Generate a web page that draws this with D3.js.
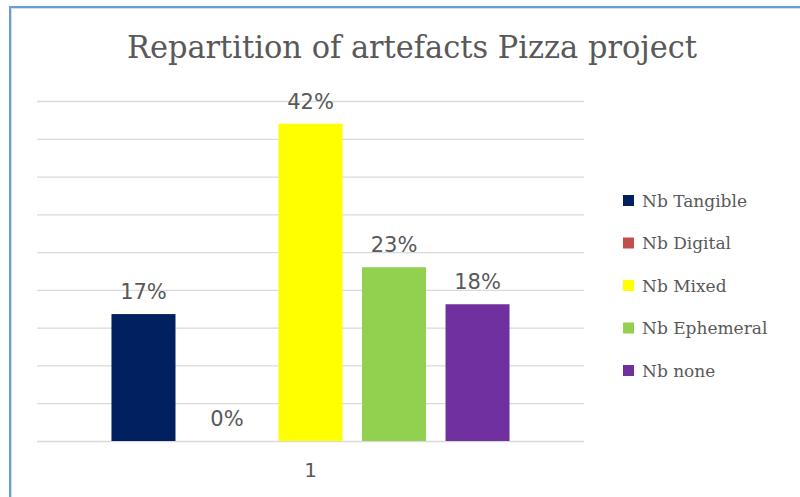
<!DOCTYPE html>
<html>
<head>
<meta charset="utf-8">
<script src="https://cdn.jsdelivr.net/npm/d3@7/dist/d3.min.js"></script>
<style>
html,body{margin:0;padding:0;background:#fff;}
svg{display:block;}
</style>
</head>
<body>
<svg id="chart" width="800" height="497"></svg>
<script>
const title = "Repartition of artefacts Pizza project";
const categories = ["1"];
const seriesNames = ["Nb Tangible", "Nb Digital", "Nb Mixed", "Nb Ephemeral", "Nb none"];
const seriesValues = [0.168, 0.0, 0.42, 0.23, 0.181];
const seriesLabels = ["17%", "0%", "42%", "23%", "18%"];
const seriesColors = ["#002060", "#c0504d", "#ffff00", "#92d050", "#7030a0"];
const gridTicks = [0, 0.05, 0.10, 0.15, 0.20, 0.25, 0.30, 0.35, 0.40, 0.45];

const svg = d3.select("#chart");
const W = 800, H = 497;
svg.append("rect").attr("width", W).attr("height", H).attr("fill", "#fff");

// frame (top & left border)
svg.append("line").attr("x1", 10).attr("x2", W).attr("y1", 7).attr("y2", 7)
  .attr("stroke", "#6b9bd8").attr("stroke-width", 2);
svg.append("line").attr("x1", 10).attr("x2", 10).attr("y1", 6).attr("y2", H)
  .attr("stroke", "#6b9bd8").attr("stroke-width", 2);
svg.append("line").attr("x1", 11.5).attr("x2", W).attr("y1", 8.5).attr("y2", 8.5)
  .attr("stroke", "#cfe0f5").attr("stroke-width", 1);
svg.append("line").attr("x1", 11.5).attr("x2", 11.5).attr("y1", 8.5).attr("y2", H)
  .attr("stroke", "#cfe0f5").attr("stroke-width", 1);

const plot = {left: 37, right: 584, top: 101, bottom: 441};

const y = d3.scaleLinear().domain([0, 0.45]).range([plot.bottom, plot.top]);
const x0 = d3.scaleBand().domain(categories).range([plot.left, plot.right])
  .paddingInner(0).paddingOuter(0.155);
const x1 = d3.scaleBand().domain(seriesNames).range([0, x0.bandwidth()])
  .paddingInner(0.2335).paddingOuter(0.11675);

// gridlines
const grid = d3.axisLeft(y).tickValues(gridTicks).tickSize(-(plot.right - plot.left)).tickFormat("");
const gg = svg.append("g").attr("transform", `translate(${plot.left},0)`).call(grid);
gg.select(".domain").remove();
gg.selectAll(".tick line").attr("stroke", "#d9d9d9").attr("stroke-width", 1.3);

// category axis label
const xa = d3.axisBottom(x0).tickSize(0).tickPadding(0);
const xg = svg.append("g").attr("transform", `translate(0,${plot.bottom})`).call(xa);
xg.select(".domain").remove();
xg.selectAll("text").attr("font-family", "'DejaVu Sans', sans-serif").attr("font-size", 20)
  .attr("fill", "#595959").attr("dy", null).attr("y", 36);

// bars
const data = seriesNames.map((s, i) => ({cat: categories[0], name: s, value: seriesValues[i], label: seriesLabels[i], color: seriesColors[i]}));
const g = svg.append("g");
g.selectAll("rect.bar").data(data).enter().append("rect")
  .attr("class", "bar")
  .attr("x", d => x0(d.cat) + x1(d.name))
  .attr("width", x1.bandwidth())
  .attr("y", d => y(d.value))
  .attr("height", d => y(0) - y(d.value))
  .attr("fill", d => d.color);

g.selectAll("text.lbl").data(data).enter().append("text")
  .attr("class", "lbl")
  .attr("x", d => x0(d.cat) + x1(d.name) + x1.bandwidth() / 2)
  .attr("y", d => y(d.value) - 15)
  .attr("text-anchor", "middle")
  .attr("font-family", "'DejaVu Sans', sans-serif")
  .attr("font-size", 21)
  .attr("fill", "#595959")
  .text(d => d.label);

// title
svg.append("text")
  .attr("x", 127).attr("y", 58)
  .attr("font-family", "'DejaVu Serif Condensed', 'DejaVu Serif', serif")
  .attr("font-stretch", "condensed")
  .attr("font-size", 31)
  .attr("fill", "#595959")
  .attr("textLength", 570).attr("lengthAdjust", "spacingAndGlyphs")
  .text(title);

// legend
const lg = svg.append("g");
const legY = d3.scalePoint().domain(seriesNames).range([200.5, 370.5]);
seriesNames.forEach((s, i) => {
  const yy = legY(s);
  lg.append("rect").attr("x", 623).attr("y", yy - 5.5).attr("width", 11).attr("height", 11)
    .attr("fill", seriesColors[i]);
  lg.append("text").attr("x", 642).attr("y", yy + 6.3)
    .attr("font-family", "'DejaVu Serif', serif")
    .attr("font-size", 17)
    .attr("fill", "#595959")
    .text(s);
});
</script>
</body>
</html>
